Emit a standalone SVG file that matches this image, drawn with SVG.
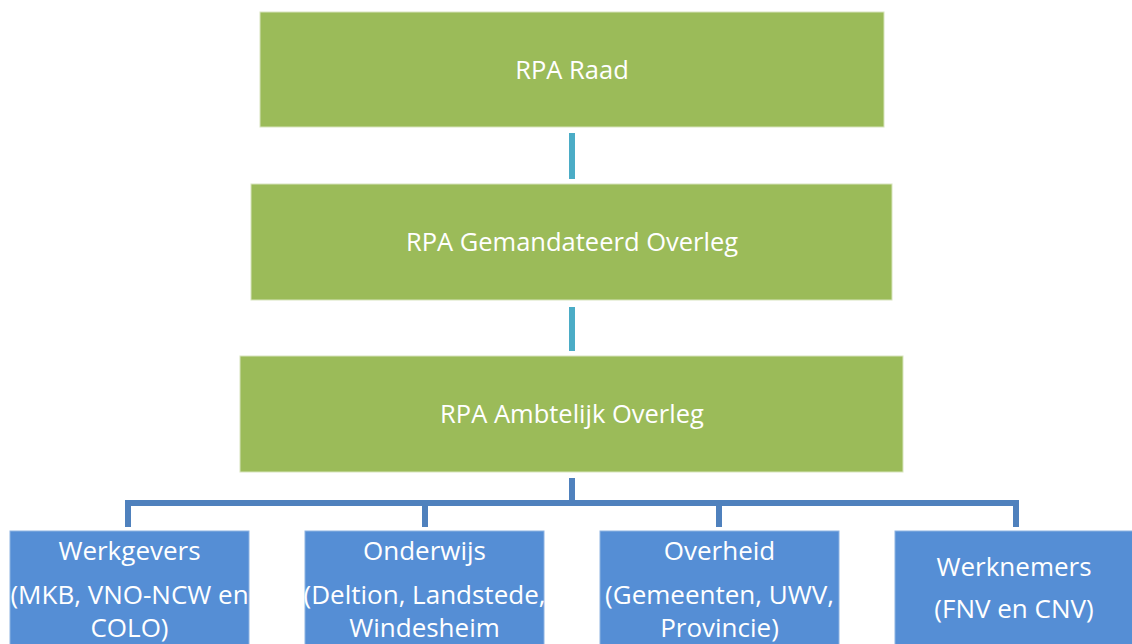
<svg xmlns="http://www.w3.org/2000/svg" width="1132" height="644" viewBox="0 0 1132 644">
<style>
.g{fill:#9BBB59;stroke:#D7E4BD;stroke-width:1}
.b{fill:#558ED5;stroke:#8DB3E2;stroke-width:1}
text{font-family:"Open Sans","Noto Sans",sans-serif;fill:#fff;text-anchor:middle}
.t{font-size:25.5px}
.s{font-size:26px}
.c1{stroke:#4BACC6;stroke-width:6;fill:none}
.c2{stroke:#4F81BD;stroke-width:6;fill:none}
</style>
<rect width="1132" height="644" fill="#fff"/>
<g id="connectors">
<line class="c1" x1="572" y1="133" x2="572" y2="179"/>
<line class="c1" x1="572" y1="307" x2="572" y2="351"/>
<path class="c2" d="M572 478V503M128 527V503H1016V527M425 503V527M719 503V527"/>
</g>
<g id="raad"><rect class="g" x="260" y="12" width="624" height="115"/><text class="t" x="572" y="79">RPA Raad</text></g>
<g id="gemandateerd"><rect class="g" x="251" y="184" width="641" height="116"/><text class="t" x="572" y="251">RPA Gemandateerd Overleg</text></g>
<g id="ambtelijk"><rect class="g" x="240" y="356" width="663" height="116"/><text class="t" x="572" y="423">RPA Ambtelijk Overleg</text></g>
<g id="werkgevers"><rect class="b" x="10" y="531" width="239" height="120"/><text class="s" x="129.5" y="560">Werkgevers</text><text class="s" x="129.5" y="604">(MKB, VNO-NCW en</text><text class="s" x="129.5" y="637">COLO)</text></g>
<g id="onderwijs"><rect class="b" x="305" y="531" width="239" height="120"/><text class="s" x="424.5" y="560">Onderwijs</text><text class="s" x="424.5" y="604">(Deltion, Landstede,</text><text class="s" x="424.5" y="637">Windesheim</text></g>
<g id="overheid"><rect class="b" x="600" y="531" width="239" height="120"/><text class="s" x="719.5" y="560">Overheid</text><text class="s" x="719.5" y="604">(Gemeenten, UWV,</text><text class="s" x="719.5" y="637">Provincie)</text></g>
<g id="werknemers"><rect class="b" x="895" y="531" width="239" height="120"/><text class="s" x="1014" y="576">Werknemers</text><text class="s" x="1014" y="618">(FNV en CNV)</text></g>
</svg>
